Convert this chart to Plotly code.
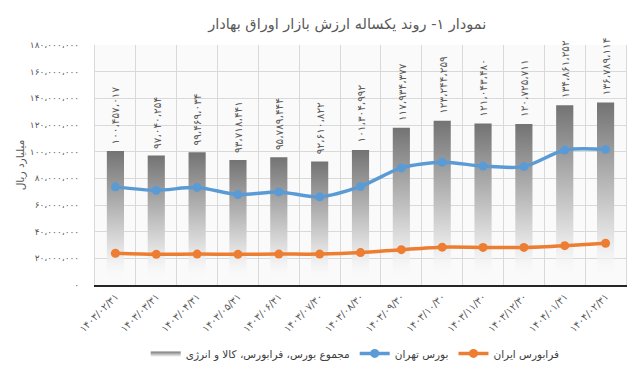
import plotly.graph_objects as go

# ---- data ----
dates = ["1403/02/31", "1403/03/31", "1403/04/31", "1403/05/31", "1403/06/31",
         "1403/07/30", "1403/08/30", "1403/09/30", "1403/10/30", "1403/11/30",
         "1403/12/30", "1404/01/31", "1404/02/31"]
total_market = [100457017, 97040254, 99469034, 93718441, 95789444, 92610822,
                101304992, 117934377, 123244259, 121043480, 120725711,
                134861252, 136789114]
tehran_exchange = [73.6e6, 71.0e6, 73.2e6, 67.8e6, 69.8e6, 66.1e6, 73.9e6,
                   87.8e6, 92.0e6, 89.2e6, 88.8e6, 101.2e6, 101.7e6]
ifb_exchange = [23.8e6, 23.0e6, 23.2e6, 23.0e6, 23.2e6, 23.2e6, 24.3e6,
                26.5e6, 28.4e6, 28.2e6, 28.2e6, 29.5e6, 31.3e6]
y_ticks = [0, 20e6, 40e6, 60e6, 80e6, 100e6, 120e6, 140e6, 160e6, 180e6]

title = "نمودار ۱- روند یکساله ارزش بازار اوراق بهادار"
y_title = "میلیارد ریال"
name_total = "مجموع بورس، فرابورس، کالا و انرژی"
name_tehran = "بورس تهران"
name_ifb = "فرابورس ایران"

FA = str.maketrans("0123456789", "۰۱۲۳۴۵۶۷۸۹")


def fa_num(v):
    return f"{int(round(v)):,}".replace(",", "،").translate(FA)


FONT = "DejaVu Sans"
TXT = "#595959"
BAR_W = 0.42

fig = go.Figure()

# gradient bars (one polygon per bar so each has its own vertical gradient)
for i, v in enumerate(total_market):
    x0, x1 = i - BAR_W / 2, i + BAR_W / 2
    fig.add_trace(go.Scatter(
        x=[x0, x0, x1, x1, x0], y=[0, v, v, 0, 0],
        mode="lines", line=dict(width=0, color="#7f7f7f"),
        fill="toself",
        fillgradient=dict(type="vertical",
                          colorscale=[[0, "rgba(255,255,255,0)"],
                                      [0.22, "rgba(235,235,235,1)"],
                                      [1, "#737373"]],
                          start=0, stop=v),
        name=name_total, legendgroup="total", showlegend=(i == 0),
        hoverinfo="skip",
    ))

fig.add_trace(go.Scatter(
    x=list(range(len(dates))), y=tehran_exchange, mode="lines+markers",
    line=dict(color="#5b9bd5", width=3.5, shape="spline", smoothing=0.8),
    marker=dict(size=9, color="#5b9bd5"), name=name_tehran,
))
fig.add_trace(go.Scatter(
    x=list(range(len(dates))), y=ifb_exchange, mode="lines+markers",
    line=dict(color="#ed7d31", width=3.5, shape="spline", smoothing=0.8),
    marker=dict(size=9, color="#ed7d31"), name=name_ifb,
))

for i, v in enumerate(total_market):
    fig.add_annotation(x=i, y=v, text=fa_num(v), textangle=-90,
                       showarrow=False, xanchor="center", yanchor="bottom",
                       yshift=5, font=dict(family=FONT, size=10.5, color=TXT))

fig.update_layout(
    width=640, height=375,
    margin=dict(l=87, r=22, t=37, b=98),
    paper_bgcolor="white", plot_bgcolor="#fafafa",
    font=dict(family=FONT, color=TXT),
    title=dict(text=title, x=0.53, xanchor="center", y=0.958, yanchor="middle",
               font=dict(family=FONT, size=14.5, color=TXT)),
    showlegend=True,
    legend=dict(orientation="h", x=0.49, xanchor="center", y=-0.285,
                yanchor="middle", font=dict(family=FONT, size=10.5, color="#404040"),
                itemwidth=30, bgcolor="rgba(0,0,0,0)"),
    hovermode=False,
)
fig.update_xaxes(
    range=[-0.5, len(dates) - 0.5], tickmode="array",
    tickvals=list(range(len(dates))), ticktext=[d.translate(FA) for d in dates],
    tickangle=-45, tickfont=dict(family=FONT, size=10, color=TXT),
    showgrid=False, zeroline=False,
    showline=True, linecolor="#262626", linewidth=2,
    minor=dict(tick0=-0.5, dtick=1, showgrid=True, gridcolor="#d9d9d9",
               gridwidth=1),
)
fig.update_yaxes(
    range=[0, 180e6], tickmode="array", tickvals=y_ticks,
    ticktext=[fa_num(t) for t in y_ticks],
    tickfont=dict(family=FONT, size=9, color=TXT),
    showgrid=True, gridcolor="#d9d9d9", gridwidth=1, zeroline=False,
    showline=True, linecolor="#d9d9d9", linewidth=1, mirror=True,
    ticks="", ticklabelstandoff=13,
    title=dict(text=y_title, font=dict(family=FONT, size=10.5, color=TXT),
               standoff=3),
)

fig.write_html("out.html")
